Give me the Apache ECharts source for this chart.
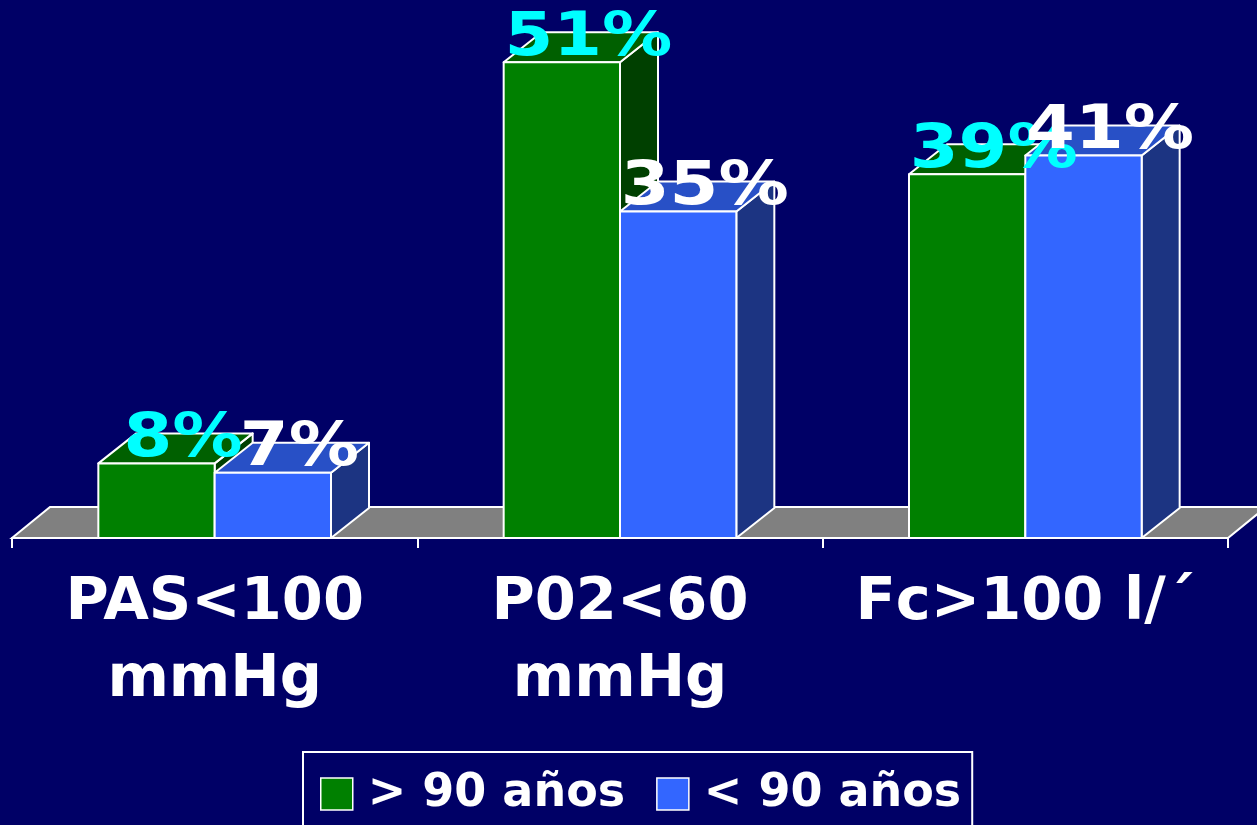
<!DOCTYPE html>
<html>
<head>
<meta charset="utf-8">
<title>PAS, PO2 y Fc por edad</title>
<script src="https://cdn.jsdelivr.net/npm/echarts@6/dist/echarts.min.js"></script>
<style>
  html, body { margin: 0; padding: 0; background: #000066; }
  #chart { width: 1257px; height: 825px; }
</style>
</head>
<body>
<div id="chart"></div>
<script>
// Categories and percentages per age group
const categories = ['PAS<100\nmmHg', 'P02<60\nmmHg', 'Fc>100 l/´'];
const seriesNames = ['> 90 años', '< 90 años'];
const olderValues = [8, 51, 39];    // > 90 años
const youngerValues = [7, 35, 41];  // < 90 años

// Pseudo-3D depth offset of the boxes and the floor
const DX = 38;
const DY = 30;
const BAR_RATIO = 0.287;
const FONT = "'DejaVu Sans', 'Liberation Sans', sans-serif";

const palette = {
  older:   { front: '#008000', top: '#006000', side: '#004000', label: '#00FFFF' },
  younger: { front: '#3366FF', top: '#2850C6', side: '#1C3482', label: '#FFFFFF' }
};

function toPairs(values) {
  return values.map((v, i) => [i, v]);
}

// Box geometry for one bar; side = -1 draws left of the category centre, +1 right of it
function boxGeom(api, side) {
  const cat = api.value(0);
  const val = api.value(1);
  const top = api.coord([cat, val]);
  const base = api.coord([cat, 0]);
  const w = api.size([1, 0])[0] * BAR_RATIO;
  const x0 = side < 0 ? top[0] - w : top[0];
  return { x0: x0, x1: x0 + w, yT: top[1], yB: base[1], w: w };
}

function boxRenderer(colors, side) {
  return function (params, api) {
    const g = boxGeom(api, side);
    const stroke = { stroke: '#FFFFFF', lineWidth: 2, lineJoin: 'round' };
    return {
      type: 'group',
      children: [
        {
          type: 'polygon',
          shape: { points: [[g.x1, g.yT], [g.x1 + DX, g.yT - DY], [g.x1 + DX, g.yB - DY], [g.x1, g.yB]] },
          style: Object.assign({ fill: colors.side }, stroke)
        },
        {
          type: 'polygon',
          shape: { points: [[g.x0, g.yT], [g.x1, g.yT], [g.x1 + DX, g.yT - DY], [g.x0 + DX, g.yT - DY]] },
          style: Object.assign({ fill: colors.top }, stroke)
        },
        {
          type: 'rect',
          shape: { x: g.x0, y: g.yT, width: g.w, height: g.yB - g.yT },
          style: Object.assign({ fill: colors.front }, stroke)
        }
      ]
    };
  };
}

function labelRenderer(colors, side) {
  return function (params, api) {
    const g = boxGeom(api, side);
    return {
      type: 'text',
      x: (g.x0 + g.x1) / 2 + DX * 0.7,
      y: g.yT - 23,
      scaleX: 1.17,
      style: {
        text: api.value(1) + '%',
        x: 0,
        y: 0,
        align: 'center',
        verticalAlign: 'middle',
        font: 'bold 60px ' + FONT,
        fill: colors.label
      }
    };
  };
}

// Grey floor slab under the bars, spanning the whole category axis
function floorRenderer(params, api) {
  const cs = params.coordSys;
  const y0 = api.coord([0, 0])[1];
  const xa = cs.x;
  const xb = cs.x + cs.width;
  return {
    type: 'polygon',
    shape: { points: [[xa, y0], [xb, y0], [xb + DX, y0 - DY - 1], [xa + DX, y0 - DY - 1]] },
    style: { fill: '#808080', stroke: '#FFFFFF', lineWidth: 2 }
  };
}

const chart = echarts.init(document.getElementById('chart'), null, { renderer: 'canvas' });

chart.setOption({
  backgroundColor: '#000066',
  animation: false,
  grid: { left: 12, right: 29, top: 25, bottom: 287, containLabel: false },
  xAxis: {
    type: 'category',
    data: categories,
    boundaryGap: true,
    axisLine: { show: true, lineStyle: { color: '#FFFFFF', width: 2 } },
    axisTick: { show: true, length: 10, lineStyle: { color: '#FFFFFF', width: 2 } },
    axisLabel: {
      color: '#FFFFFF',
      fontFamily: FONT,
      fontWeight: 'bold',
      fontSize: 59,
      lineHeight: 77,
      margin: 27,
      interval: 0
    },
    z: 5
  },
  yAxis: {
    type: 'value',
    min: 0,
    max: 55,
    show: false,
    splitLine: { show: false }
  },
  legend: {
    data: seriesNames,
    left: 303,
    top: 752,
    orient: 'horizontal',
    icon: 'rect',
    itemWidth: 32,
    itemHeight: 32,
    itemGap: 31,
    padding: [19, 11, 24, 17],
    borderColor: '#FFFFFF',
    borderWidth: 2,
    itemStyle: { borderColor: '#FFFFFF', borderWidth: 1.5 },
    textStyle: {
      color: '#FFFFFF',
      fontFamily: FONT,
      fontWeight: 'bold',
      fontSize: 46,
      lineHeight: 46,
      padding: [0, 0, 0, 10]
    },
    selectedMode: false
  },
  series: [
    {
      type: 'custom',
      name: 'floor',
      renderItem: floorRenderer,
      data: [[0, 0]],
      silent: true,
      z: 1
    },
    {
      type: 'custom',
      name: seriesNames[0],
      renderItem: boxRenderer(palette.older, -1),
      data: toPairs(olderValues),
      itemStyle: { color: palette.older.front },
      z: 2
    },
    {
      type: 'custom',
      name: seriesNames[1],
      renderItem: boxRenderer(palette.younger, 1),
      data: toPairs(youngerValues),
      itemStyle: { color: palette.younger.front },
      z: 3
    },
    {
      type: 'custom',
      name: 'older-labels',
      renderItem: labelRenderer(palette.older, -1),
      data: toPairs(olderValues),
      silent: true,
      z: 10
    },
    {
      type: 'custom',
      name: 'younger-labels',
      renderItem: labelRenderer(palette.younger, 1),
      data: toPairs(youngerValues),
      silent: true,
      z: 11
    }
  ]
});
</script>
</body>
</html>
